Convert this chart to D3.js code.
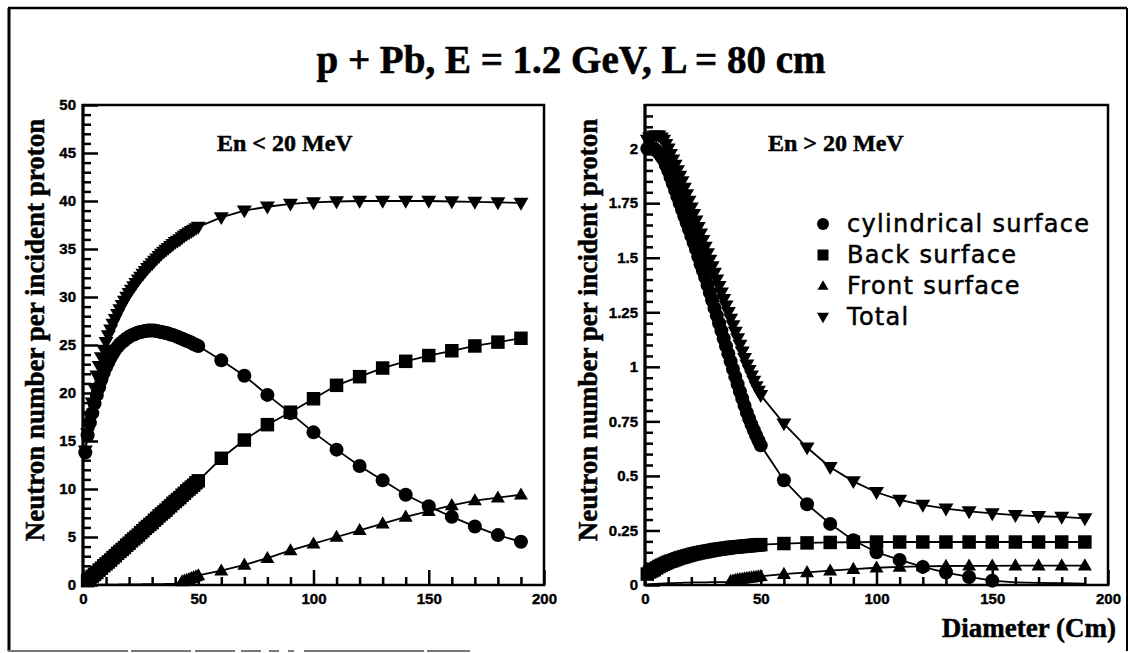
<!DOCTYPE html>
<html>
<head>
<meta charset="utf-8">
<script src="https://cdn.jsdelivr.net/npm/d3@7"></script>
<style>
  html, body { margin: 0; padding: 0; background: #fff; }
  svg { display: block; }
</style>
</head>
<body>
<svg id="fig" width="1130" height="653"></svg>
<script>
// ---- data: neutron yield per incident proton vs target diameter (cm) ----
// 1 cm steps up to 50 cm, then 10 cm steps
const diameters = [
  1, 2, 3, 4, 5, 6, 7, 8, 9, 10, 11, 12, 13, 14, 15, 16, 17, 18, 19, 20, 21, 22, 23, 24, 25,
  26, 27, 28, 29, 30, 31, 32, 33, 34, 35, 36, 37, 38, 39, 40, 41, 42, 43, 44, 45, 46, 47, 48, 49, 50,
  60, 70, 80, 90, 100, 110, 120, 130, 140, 150, 160, 170, 180, 190];

// En < 20 MeV
const lowCylindrical = [
  13.8, 15.6, 16.9, 17.9, 18.9, 19.8, 20.6, 21.4, 22.1, 22.7, 23.2, 23.7, 24.1, 24.5, 24.8,
  25.1, 25.3, 25.5, 25.7, 25.85, 26.0, 26.1, 26.2, 26.3, 26.35, 26.4, 26.45, 26.5, 26.5, 26.5,
  26.5, 26.45, 26.4, 26.35, 26.3, 26.25, 26.2, 26.1, 26.05, 25.95, 25.85, 25.75, 25.65, 25.55,
  25.45, 25.35, 25.25, 25.1, 25.0, 24.9,
  23.4, 21.8, 19.8, 17.9, 15.9, 14.1, 12.4, 10.9, 9.4, 8.2, 7.1, 6.1, 5.2, 4.5];
const lowBack = [
  0.22, 0.45, 0.67, 0.9, 1.1, 1.3, 1.55, 1.75, 2.0, 2.2, 2.4, 2.6, 2.85, 3.05, 3.3, 3.5, 3.7,
  3.9, 4.15, 4.35, 4.6, 4.8, 5.0, 5.2, 5.45, 5.65, 5.9, 6.1, 6.3, 6.5, 6.75, 6.95, 7.2, 7.4,
  7.6, 7.8, 8.05, 8.25, 8.5, 8.7, 8.9, 9.1, 9.35, 9.55, 9.8, 10.0, 10.2, 10.4, 10.65, 10.85,
  13.2, 15.1, 16.7, 18.0, 19.4, 20.8, 21.7, 22.6, 23.3, 23.9, 24.4, 24.9, 25.3, 25.7];
const lowFront = [
  0.02, 0.02, 0.02, 0.02, 0.02, 0.03, 0.03, 0.03, 0.03, 0.03, 0.04, 0.04, 0.04, 0.04, 0.04,
  0.05, 0.05, 0.05, 0.05, 0.05, 0.06, 0.06, 0.06, 0.06, 0.06, 0.08, 0.08, 0.08, 0.08, 0.08,
  0.09, 0.09, 0.09, 0.09, 0.09, 0.11, 0.11, 0.11, 0.11, 0.15, 0.22, 0.3, 0.38, 0.45, 0.52,
  0.6, 0.7, 0.8, 0.9, 1.0,
  1.5, 2.1, 2.8, 3.6, 4.3, 5.0, 5.7, 6.4, 7.1, 7.7, 8.3, 8.8, 9.1, 9.4];
const lowTotal = [
  14.0, 15.8, 17.5, 19.0, 20.5, 21.8, 22.8, 23.7, 24.5, 25.3, 26.0, 26.6, 27.2, 27.7, 28.2,
  28.7, 29.15, 29.6, 30.0, 30.4, 30.75, 31.1, 31.45, 31.8, 32.1, 32.4, 32.7, 33.0, 33.25, 33.5,
  33.75, 34.0, 34.25, 34.5, 34.7, 34.9, 35.1, 35.3, 35.5, 35.7, 35.85, 36.0, 36.2, 36.4, 36.55,
  36.7, 36.85, 37.0, 37.15, 37.3,
  38.3, 39.0, 39.4, 39.7, 39.85, 39.95, 40.0, 40.0, 40.0, 40.0, 39.95, 39.9, 39.85, 39.8];

// En > 20 MeV
const highCylindrical = [
  2.0, 2.0, 2.0, 2.0, 1.99, 1.98, 1.965, 1.95, 1.925, 1.9, 1.87, 1.84, 1.81, 1.78, 1.75, 1.72,
  1.69, 1.66, 1.63, 1.6, 1.57, 1.54, 1.505, 1.47, 1.44, 1.41, 1.375, 1.34, 1.305, 1.27, 1.235,
  1.2, 1.165, 1.13, 1.095, 1.06, 1.025, 0.99, 0.955, 0.92, 0.887, 0.855, 0.822, 0.79, 0.762,
  0.735, 0.71, 0.685, 0.662, 0.64,
  0.48, 0.37, 0.28, 0.205, 0.15, 0.115, 0.083, 0.057, 0.037, 0.02, 0.012, 0.01, 0.008, 0.006];
const highBack = [
  0.05, 0.06, 0.065, 0.07, 0.078, 0.085, 0.09, 0.095, 0.1, 0.105, 0.109, 0.112, 0.116, 0.12,
  0.124, 0.127, 0.13, 0.133, 0.136, 0.139, 0.142, 0.144, 0.147, 0.149, 0.151, 0.153, 0.155,
  0.157, 0.159, 0.161, 0.163, 0.164, 0.166, 0.167, 0.169, 0.17, 0.172, 0.173, 0.174, 0.175,
  0.176, 0.177, 0.178, 0.179, 0.18, 0.181, 0.182, 0.183, 0.184, 0.185,
  0.19, 0.193, 0.195, 0.196, 0.197, 0.197, 0.197, 0.197, 0.197, 0.197, 0.197, 0.197, 0.197, 0.197];
const highFront = [
  0.003, 0.004, 0.004, 0.005, 0.005, 0.006, 0.006, 0.007, 0.007, 0.008, 0.008, 0.009, 0.009,
  0.01, 0.01, 0.01, 0.011, 0.011, 0.011, 0.011, 0.012, 0.012, 0.012, 0.012, 0.012, 0.012,
  0.012, 0.013, 0.013, 0.013, 0.013, 0.013, 0.013, 0.013, 0.013, 0.013, 0.018, 0.02, 0.022,
  0.025, 0.026, 0.028, 0.03, 0.031, 0.033, 0.034, 0.036, 0.037, 0.039, 0.04,
  0.05, 0.058, 0.066, 0.073, 0.079, 0.083, 0.085, 0.087, 0.088, 0.088, 0.089, 0.089, 0.089, 0.089];
const highTotal = [
  2.04, 2.05, 2.055, 2.06, 2.06, 2.06, 2.05, 2.04, 2.02, 2.0, 1.975, 1.95, 1.925, 1.9, 1.875,
  1.85, 1.82, 1.79, 1.76, 1.73, 1.7, 1.67, 1.64, 1.61, 1.58, 1.55, 1.52, 1.49, 1.46, 1.43,
  1.4, 1.37, 1.34, 1.31, 1.28, 1.25, 1.22, 1.19, 1.16, 1.13, 1.1, 1.07, 1.04, 1.01, 0.985,
  0.96, 0.935, 0.91, 0.89, 0.87,
  0.74, 0.63, 0.54, 0.475, 0.425, 0.39, 0.367, 0.35, 0.337, 0.328, 0.32, 0.315, 0.312, 0.305];

const seriesNames = ["cylindrical surface", "Back surface", "Front surface", "Total"];
const titleText = "p + Pb, E = 1.2 GeV, L = 80 cm";
const panelTitles = ["En < 20 MeV", "En > 20 MeV"];
const yAxisTitle = "Neutron number per incident proton";
const xAxisTitle = "Diameter (Cm)";

const xTicks = [0, 50, 100, 150, 200];
const lowYTicks = [0, 5, 10, 15, 20, 25, 30, 35, 40, 45, 50];
const highYTicks = [0, 0.25, 0.5, 0.75, 1, 1.25, 1.5, 1.75, 2];
const highYTickLabels = ["0", "0.25", "0.5", "0.75", "1", "1.25", "1.5", "1.75", "2"];

// ---- marker shapes ----
const triUp = {
  draw(ctx, size) {
    const w = Math.sqrt(size), h = w * 0.86;
    ctx.moveTo(0, -h * 0.6); ctx.lineTo(w / 2, h * 0.4); ctx.lineTo(-w / 2, h * 0.4); ctx.closePath();
  }
};
const triDown = {
  draw(ctx, size) {
    const w = Math.sqrt(size), h = w * 0.86;
    ctx.moveTo(0, h * 0.6); ctx.lineTo(w / 2, -h * 0.4); ctx.lineTo(-w / 2, -h * 0.4); ctx.closePath();
  }
};
const markerDefs = [
  { type: d3.symbolCircle, size: Math.PI * 7 * 7, legendSize: Math.PI * 6 * 6 },
  { type: d3.symbolSquare, size: 13.5 * 13.5, legendSize: 11 * 11 },
  { type: triUp, size: 14 * 14, legendSize: 11 * 11 },
  { type: triDown, size: 15 * 15, legendSize: 12 * 12 }
];

const svg = d3.select("#fig");

// ---- outer border ----
const border = svg.append("g").attr("stroke", "#000").attr("fill", "none");
border.append("line").attr("x1", 8).attr("y1", 8).attr("x2", 1127).attr("y2", 8).attr("stroke-width", 2.5);
border.append("line").attr("x1", 9).attr("y1", 8).attr("x2", 9).attr("y2", 651).attr("stroke-width", 3);
border.append("line").attr("x1", 1127).attr("y1", 8).attr("x2", 1127).attr("y2", 651).attr("stroke-width", 2);
border.append("line").attr("x1", 8).attr("y1", 651).attr("x2", 470).attr("y2", 651)
  .attr("stroke", "#777").attr("stroke-width", 2).attr("stroke-dasharray", "120 3 60 4 40 6 20 8 10 9 6 10");

// ---- main title ----
svg.append("text")
  .attr("x", 571).attr("y", 73)
  .attr("text-anchor", "middle")
  .style("font-family", "'Liberation Serif', 'Times New Roman', serif")
  .style("font-weight", "bold").style("font-size", "39px")
  .attr("stroke", "#000").attr("stroke-width", 0.6)
  .text(titleText);

function drawPanel(cfg) {
  const x = d3.scaleLinear().domain([0, 200]).range([cfg.left, cfg.right]);
  const y = d3.scaleLinear().domain([0, cfg.yMax]).range([585, 105]);
  const g = svg.append("g");

  // curves with markers
  cfg.series.forEach((vals, i) => {
    const pts = diameters.map((d, k) => ({ x: d, v: vals[k] }));
    g.append("path")
      .datum(pts)
      .attr("fill", "none").attr("stroke", "#000").attr("stroke-width", 1.8)
      .attr("d", d3.line().x(p => x(p.x)).y(p => y(p.v)));
    const sym = d3.symbol().type(markerDefs[i].type).size(markerDefs[i].size);
    // markers sitting on the x axis are not drawn
    g.selectAll(null)
      .data(pts.filter(p => y(p.v) < y(0) - 3))
      .join("path")
      .attr("transform", p => `translate(${x(p.x)},${y(p.v)})`)
      .attr("d", sym)
      .attr("fill", "#000");
  });

  const tickFont = g => g.selectAll("text")
    .style("font-family", "'Liberation Sans', Arial, sans-serif")
    .style("font-weight", "bold").style("font-size", "15px").attr("fill", "#000")
    .attr("stroke", "#000").attr("stroke-width", 0.4);

  // y axis: major + minor ticks pointing inward
  const yMajor = g.append("g").attr("transform", `translate(${cfg.left},0)`)
    .call(d3.axisLeft(y).tickValues(cfg.yTicks).tickSize(-15).tickPadding(7)
      .tickFormat((d, k) => cfg.yLabels[k]));
  yMajor.select(".domain").remove();
  yMajor.selectAll("line").attr("stroke-width", 2.5);
  yMajor.call(tickFont);
  const yMinor = g.append("g").attr("transform", `translate(${cfg.left},0)`)
    .call(d3.axisLeft(y).tickValues(cfg.yMinor).tickSize(-8).tickFormat(""));
  yMinor.select(".domain").remove();
  yMinor.selectAll("line").attr("stroke-width", 2.5);

  // x axis
  const xMajor = g.append("g").attr("transform", "translate(0,585)")
    .call(d3.axisBottom(x).tickValues(xTicks).tickSize(-15).tickPadding(8).tickFormat(d3.format("d")));
  xMajor.select(".domain").remove();
  xMajor.selectAll("line").attr("stroke-width", 2.5);
  xMajor.call(tickFont);
  const xMinor = g.append("g").attr("transform", "translate(0,585)")
    .call(d3.axisBottom(x).tickValues(d3.range(10, 200, 10).filter(v => v % 50 !== 0))
      .tickSize(-8).tickFormat(""));
  xMinor.select(".domain").remove();
  xMinor.selectAll("line").attr("stroke-width", 2.5);

  // frame
  g.append("rect")
    .attr("x", cfg.left).attr("y", 105)
    .attr("width", cfg.right - cfg.left).attr("height", 480)
    .attr("fill", "none").attr("stroke", "#000").attr("stroke-width", 2.5);
  g.append("line").attr("x1", cfg.left).attr("x2", cfg.left).attr("y1", 104).attr("y2", 586)
    .attr("stroke", "#000").attr("stroke-width", 3);

  // panel heading
  g.append("text")
    .attr("x", cfg.headX).attr("y", 151)
    .style("font-family", "'Liberation Serif', 'Times New Roman', serif")
    .style("font-weight", "bold").style("font-size", "24px")
    .attr("stroke", "#000").attr("stroke-width", 0.5)
    .text(cfg.heading);

  // y axis title
  g.append("text")
    .attr("transform", `translate(${cfg.yTitleX},330) rotate(-90)`)
    .attr("text-anchor", "middle")
    .style("font-family", "'Liberation Serif', 'Times New Roman', serif")
    .style("font-weight", "bold").style("font-size", "27px")
    .attr("stroke", "#000").attr("stroke-width", 0.5)
    .text(yAxisTitle);
  return { x, y, g };
}

const lowMinor = d3.range(1, 50, 1).filter(v => v % 5 !== 0);
drawPanel({
  left: 83, right: 544, yMax: 50,
  series: [lowCylindrical, lowBack, lowFront, lowTotal],
  yTicks: lowYTicks, yLabels: lowYTicks.map(String), yMinor: lowMinor,
  heading: panelTitles[0], headX: 217, yTitleX: 44
});

const highMinor = d3.range(1, 44).map(k => +(k * 0.05).toFixed(2))
  .filter(v => Math.abs(v / 0.25 - Math.round(v / 0.25)) > 1e-6);
drawPanel({
  left: 645, right: 1108, yMax: 2.2,
  series: [highCylindrical, highBack, highFront, highTotal],
  yTicks: highYTicks, yLabels: highYTickLabels, yMinor: highMinor,
  heading: panelTitles[1], headX: 768, yTitleX: 597
});

// x axis title
svg.append("text")
  .attr("x", 1116).attr("y", 637)
  .attr("text-anchor", "end")
  .style("font-family", "'Liberation Serif', 'Times New Roman', serif")
  .style("font-weight", "bold").style("font-size", "27px")
  .attr("stroke", "#000").attr("stroke-width", 0.5)
  .text(xAxisTitle);

// legend
const legendRows = [224, 255, 286, 317];
const legend = svg.append("g");
seriesNames.forEach((name, i) => {
  legend.append("path")
    .attr("transform", `translate(823,${legendRows[i]})`)
    .attr("d", d3.symbol().type(markerDefs[i].type).size(markerDefs[i].legendSize))
    .attr("fill", "#000");
  legend.append("text")
    .attr("x", 847).attr("y", legendRows[i] + 8)
    .style("font-family", "'DejaVu Sans', sans-serif")
    .style("font-size", "24px").style("letter-spacing", "1.3px")
    .attr("stroke", "#000").attr("stroke-width", 0.5)
    .text(name);
});
</script>
</body>
</html>
